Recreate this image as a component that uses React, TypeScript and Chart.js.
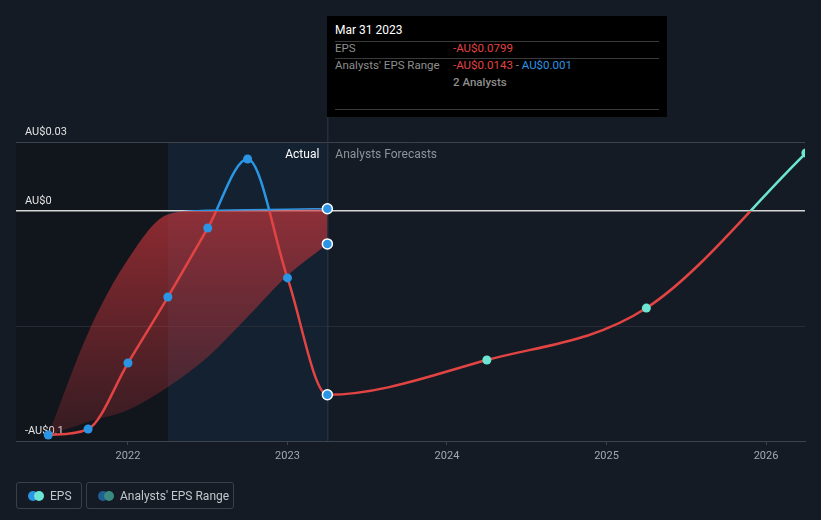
import React, { useEffect, useRef } from "react";
import { Chart, registerables } from "chart.js";

Chart.register(...registerables);

// ---- data ----
const epsDates = [2021.5, 2021.75, 2022.0, 2022.25, 2022.5, 2022.75, 2023.0, 2023.25, 2024.25, 2025.25, 2026.25];
const epsValues = [-0.0974, -0.0948, -0.0661, -0.0374, -0.0074, 0.0226, -0.0291, -0.0799, -0.0648, -0.0422, 0.0252];
const lastActualDate = 2023.25;
const rangeDates = [2021.5, 2021.75, 2022.0, 2022.25, 2022.5, 2022.75, 2023.0, 2023.25];
const rangeHigh = [-0.0974, -0.053, -0.021, -0.0015, 0.0003, 0.0005, 0.0008, 0.001];
const rangeLow = [-0.0974, -0.0917, -0.0865, -0.0765, -0.0635, -0.046, -0.028, -0.0143];
const yTicks = [-0.1, -0.05, 0, 0.03];
const yTickLabels: Record<string, string> = { "-0.1": "-AU$0.1", "0": "AU$0", "0.03": "AU$0.03" };
const xTicks = [2022, 2023, 2024, 2025, 2026];
const highlightStart = 2022.25;

const RED = "#e24343";
const BLUE = "#2b95e3";
const TEAL = "#6ce6d3";
const FONT = "Roboto, 'Noto Sans', sans-serif";

function signGradient(chart: any, above: string, below: string) {
  const ca = chart.chartArea;
  if (!ca) return below;
  const y0 = chart.scales.y.getPixelForValue(0);
  const g = chart.ctx.createLinearGradient(0, ca.top, 0, ca.bottom);
  const f = Math.min(1, Math.max(0, (y0 - ca.top) / (ca.bottom - ca.top)));
  g.addColorStop(0, above);
  g.addColorStop(f, above);
  g.addColorStop(f, below);
  g.addColorStop(1, below);
  return g;
}

const bgPlugin = {
  id: "bgRegions",
  beforeDraw(chart: any) {
    const { ctx, chartArea: ca, scales } = chart;
    const xs = scales.x.getPixelForValue(highlightStart);
    const xe = scales.x.getPixelForValue(lastActualDate);
    ctx.save();
    ctx.fillStyle = "#11151c";
    ctx.fillRect(ca.left, ca.top, xs - ca.left, ca.bottom - ca.top);
    ctx.fillStyle = "#132130";
    ctx.fillRect(xs, ca.top, xe - xs, ca.bottom - ca.top);
    ctx.restore();
  },
  beforeDatasetsDraw(chart: any) {
    const { ctx, chartArea: ca, scales } = chart;
    const xe = scales.x.getPixelForValue(lastActualDate);
    ctx.save();
    ctx.strokeStyle = "#2a3b4d";
    ctx.lineWidth = 1;
    ctx.beginPath();
    ctx.moveTo(xe + 0.5, 117);
    ctx.lineTo(xe + 0.5, ca.bottom);
    ctx.stroke();
    ctx.font = `12px ${FONT}`;
    ctx.textBaseline = "middle";
    ctx.textAlign = "right";
    ctx.fillStyle = "#ffffff";
    ctx.fillText("Actual", xe - 8, ca.top + 13);
    ctx.textAlign = "left";
    ctx.fillStyle = "#8d939b";
    ctx.fillText("Analysts Forecasts", xe + 8, ca.top + 13);
    ctx.restore();
  },
};

export default function App() {
  const ref = useRef<HTMLCanvasElement>(null);
  useEffect(() => {
    if (!ref.current) return;
    const epsData = epsDates.map((x, i) => ({ x, y: epsValues[i] }));
    const hiData = rangeDates.map((x, i) => ({ x, y: rangeHigh[i] }));
    const loData = rangeDates.map((x, i) => ({ x, y: rangeLow[i] }));
    const isLastActual = (c: any) => c.raw && c.raw.x === lastActualDate;
    const chart = new Chart(ref.current, {
      type: "line",
      data: {
        datasets: [
          {
            label: "EPS",
            data: epsData,
            order: 0,
            borderWidth: 2.5,
            cubicInterpolationMode: "monotone",
            borderColor: (c: any) => signGradient(c.chart, BLUE, RED),
            segment: {
              borderColor: (c: any) =>
                c.p0.parsed.x >= lastActualDate ? signGradient(c.chart, TEAL, RED) : undefined,
            },
            pointRadius: (c: any) => (isLastActual(c) ? 5 : 4.5),
            pointBackgroundColor: (c: any) => (c.raw && c.raw.x > lastActualDate ? TEAL : BLUE),
            pointBorderColor: (c: any) => (isLastActual(c) ? "#ffffff" : "rgba(0,0,0,0)"),
            pointBorderWidth: (c: any) => (isLastActual(c) ? 1.5 : 0),
            fill: false,
          } as any,
          {
            label: "high",
            data: hiData,
            order: 1,
            borderWidth: 1.5,
            cubicInterpolationMode: "monotone",
            borderColor: (c: any) => signGradient(c.chart, BLUE, "rgba(0,0,0,0)"),
            pointRadius: (c: any) => (isLastActual(c) ? 5 : 0),
            pointBackgroundColor: BLUE,
            pointBorderColor: "#ffffff",
            pointBorderWidth: 1.5,
            fill: false,
          } as any,
          {
            label: "low",
            data: loData,
            order: 2,
            borderWidth: 0,
            borderColor: "rgba(0,0,0,0)",
            cubicInterpolationMode: "monotone",
            pointRadius: (c: any) => (isLastActual(c) ? 5 : 0),
            pointBackgroundColor: BLUE,
            pointBorderColor: "#ffffff",
            pointBorderWidth: 1.5,
            fill: "-1",
            backgroundColor: (c: any) => {
              const ca = c.chart.chartArea;
              if (!ca) return "rgba(200,60,60,0.5)";
              const y0 = c.chart.scales.y.getPixelForValue(0);
              const g = c.chart.ctx.createLinearGradient(0, y0, 0, ca.bottom);
              g.addColorStop(0, "rgba(210,55,60,0.64)");
              g.addColorStop(1, "rgba(205,55,60,0.18)");
              return g;
            },
          } as any,
        ],
      },
      options: {
        responsive: false,
        animation: false,
        events: [],
        layout: { padding: { left: 16, right: 16, top: 142, bottom: 49 } },
        plugins: { legend: { display: false }, tooltip: { enabled: false } },
        scales: {
          x: {
            type: "linear",
            min: 2021.298,
            max: 2026.2445,
            afterFit: (s: any) => {
              s.height = 30;
            },
            afterBuildTicks: (s: any) => {
              s.ticks = xTicks.map((v) => ({ value: v }));
            },
            grid: { drawOnChartArea: false, drawTicks: true, tickLength: 4, color: "#3d434c" },
            border: { display: true, color: "#3d434c" },
            ticks: {
              color: "#a3a8b0",
              font: { family: FONT, size: 11 },
              padding: 5,
              maxRotation: 0,
              callback: (v: any) => String(v),
            },
          },
          y: {
            type: "linear",
            min: -0.1,
            max: 0.03,
            afterFit: (s: any) => {
              s.width = 0;
            },
            afterBuildTicks: (s: any) => {
              s.ticks = yTicks.map((v) => ({ value: v }));
            },
            border: { display: false },
            grid: {
              drawTicks: false,
              color: (c: any) =>
                c.tick && c.tick.value === 0 ? "#d6d6d6" : c.tick && c.tick.value === -0.05 ? "#262c35" : "#3d434c",
              lineWidth: (c: any) => (c.tick && c.tick.value === 0 ? 1.5 : 1),
            },
            ticks: {
              mirror: true,
              padding: 9,
              labelOffset: -10,
              color: "#e2e2e2",
              font: { family: FONT, size: 11 },
              callback: (v: any) => yTickLabels[String(v)] ?? "",
            },
          },
        },
      },
      plugins: [bgPlugin],
    });
    return () => chart.destroy();
  }, []);

  const legendBox: React.CSSProperties = {
    position: "absolute",
    top: 482,
    height: 27,
    border: "1px solid #3a4049",
    borderRadius: 3,
    boxSizing: "border-box",
    color: "#c3c7cd",
    fontSize: 12,
    display: "flex",
    alignItems: "center",
  };
  const dot = (left: number, color: string): React.CSSProperties => ({
    position: "absolute",
    left,
    top: 7.5,
    width: 10,
    height: 10,
    borderRadius: 5,
    background: color,
  });
  const row: React.CSSProperties = { position: "absolute", left: 8, fontSize: 11.5 };

  return (
    <div
      style={{
        position: "absolute",
        left: 0,
        top: 0,
        width: 821,
        height: 520,
        background: "#151b24",
        fontFamily: FONT,
        overflow: "hidden",
      }}
    >
      <canvas ref={ref} width={821} height={520} style={{ position: "absolute", left: 0, top: 0 }} />
      <div
        style={{
          position: "absolute",
          left: 327,
          top: 16,
          width: 340,
          height: 101,
          background: "#000000",
        }}
      >
        <div style={{ ...row, top: 7, color: "#ffffff", fontSize: 12 }}>Mar 31 2023</div>
        <div style={{ position: "absolute", left: 8, right: 8, top: 25, height: 1, background: "#3a3a3a" }} />
        <div style={{ ...row, top: 25, color: "#8e8e8e" }}>EPS</div>
        <div style={{ ...row, left: 126, top: 25, color: RED }}>-AU$0.0799</div>
        <div style={{ position: "absolute", left: 8, right: 8, top: 42, height: 1, background: "#3a3a3a" }} />
        <div style={{ ...row, top: 42, color: "#8e8e8e" }}>Analysts' EPS Range</div>
        <div style={{ ...row, left: 126, top: 42 }}>
          <span style={{ color: RED }}>-AU$0.0143</span>
          <span style={{ color: "#8e8e8e" }}> - </span>
          <span style={{ color: BLUE }}>AU$0.001</span>
        </div>
        <div style={{ ...row, left: 126, top: 59, color: "#8e8e8e", fontWeight: 500 }}>2 Analysts</div>
        <div style={{ position: "absolute", left: 8, right: 8, top: 93, height: 1, background: "#3a3a3a" }} />
      </div>
      <div style={{ ...legendBox, left: 16, width: 66 }}>
        <div style={dot(11, BLUE)} />
        <div style={dot(17, TEAL)} />
        <span style={{ position: "absolute", left: 33 }}>EPS</span>
      </div>
      <div style={{ ...legendBox, left: 86, width: 148 }}>
        <div style={dot(11, "#1f5f92")} />
        <div style={dot(17, "#3b8a82")} />
        <span style={{ position: "absolute", left: 33 }}>Analysts' EPS Range</span>
      </div>
    </div>
  );
}
